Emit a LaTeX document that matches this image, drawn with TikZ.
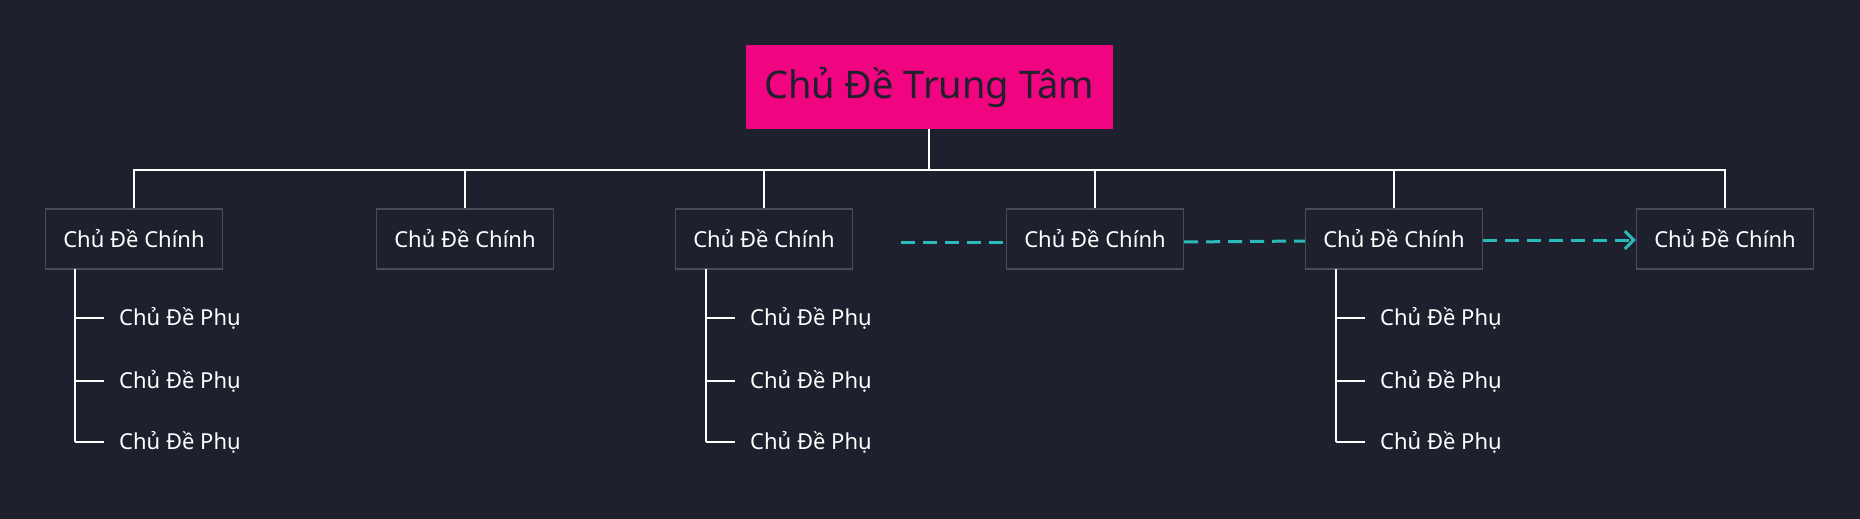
\documentclass[tikz,border=0pt]{standalone}
\usepackage{fontspec}
\setmainfont{Noto Sans}
\usetikzlibrary{arrows.meta}
\definecolor{bg}{HTML}{1E212D}
\definecolor{boxfill}{HTML}{1E212D}
\definecolor{boxline}{HTML}{4A4C55}
\definecolor{hot}{HTML}{F0047F}
\definecolor{teal}{HTML}{2ABAB9}
\begin{document}
\begin{tikzpicture}[x=1pt,y=-1pt,
  mainbox/.style={draw=boxline,fill=boxfill,line width=1.2pt,minimum width=177pt,minimum height=60pt,text=white,font=\fontsize{22}{26}\selectfont,inner sep=0pt},
  sub/.style={anchor=west,text=white,font=\fontsize{22}{26}\selectfont,inner sep=0pt},
  tree/.style={draw=white,line width=2.4pt},
  stub/.style={draw=white,line width=1.2pt},
  rel/.style={draw=teal,line width=3pt,dash pattern=on 14pt off 8pt}]
\fill[bg] (0,0) rectangle (1860,519);
\useasboundingbox (0,0) rectangle (1860,519);
\node[fill=hot,minimum width=367pt,minimum height=84pt,inner sep=0pt,font=\fontsize{38}{44}\selectfont,text=bg] (c) at (929,87) {Chủ Đề Trung Tâm};
\foreach \i/\x in {1/134,2/465,3/764,4/1095,5/1394,6/1725}{
  \node[mainbox] (m\i) at (\x,239) {Chủ Đề Chính};
}
\coordinate (bar) at (929,170);
\draw[tree] (c.south) -- (bar);
\draw[tree] (m1.north) |- (bar) -| (m6.north);
\foreach \i in {2,3,4,5}{\draw[tree] (m\i.north) -- (m\i.north |- bar);}
\foreach \i/\x in {1/75,3/706,5/1336}{
  \coordinate (t\i) at (\x,269);
  \coordinate (b\i) at (\x,442);
  \draw[stub] (t\i) -- (b\i);
  \foreach \j/\y in {1/318,2/381,3/442}{
    \node[sub] (s\i\j) at (\x+44,\y) {Chủ Đề Phụ};
    \draw[stub] (\x,\y) -- (\x+29,\y);
  }
}
\coordinate (r0) at (901,242);
\draw[rel] (r0) -- (r0 -| m4.west);
\draw[rel] ([yshift=-3pt]m4.east) -- ([yshift=-2pt]m5.west);
\draw[rel,-{Straight Barb[length=9pt,width=18pt]}] ([yshift=-1pt]m5.east) -- ([yshift=-1pt]m6.west);
\end{tikzpicture}
\end{document}
